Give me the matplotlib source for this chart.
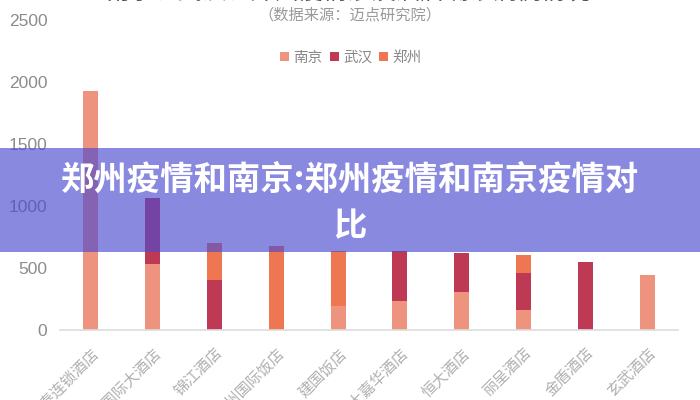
import matplotlib
matplotlib.use('Agg')
import matplotlib.pyplot as plt
import numpy as np

plt.rcParams['font.family'] = ['Noto Sans CJK SC', 'DejaVu Sans']

# 酒店名称
hotels = ['格林豪泰连锁酒店', '南京国际大酒店', '锦江酒店', '郑州国际饭店', '建国饭店',
          '武汉大嘉华酒店', '恒大酒店', '丽呈酒店', '金盾酒店', '玄武酒店']
# 各城市数据
nanjing = [1930, 535, 0, 0, 195, 235, 305, 160, 0, 440]
wuhan = [0, 530, 400, 0, 0, 405, 315, 300, 550, 0]
zhengzhou = [0, 0, 300, 680, 445, 0, 0, 145, 0, 0]
yticks = [0, 500, 1000, 1500, 2000, 2500]

colors = ['#EE937E', '#BE3A54', '#EE7752']

fig = plt.figure(figsize=(7, 4), dpi=100)
ax = fig.add_axes([60 / 700, 1 - 330 / 400, 618 / 700, 310 / 400])

x = np.arange(len(hotels))
w = 0.24
b1 = ax.bar(x, nanjing, w, color=colors[0], label='南京')
b2 = ax.bar(x, wuhan, w, bottom=nanjing, color=colors[1], label='武汉')
bottom2 = [a + b for a, b in zip(nanjing, wuhan)]
b3 = ax.bar(x, zhengzhou, w, bottom=bottom2, color=colors[2], label='郑州')

ax.set_xlim(-0.5, len(hotels) - 0.5)
ax.set_ylim(0, 2500)
ax.set_yticks(yticks)
ax.set_yticklabels([str(v) for v in yticks], fontfamily='Liberation Sans', fontsize=12.5, color='#8c8c8c')
ax.set_xticks(x)
ax.set_xticklabels(hotels, rotation=45, ha='right', rotation_mode='anchor',
                   fontsize=11, color='#b0b0b0', fontweight='light')
ax.tick_params(axis='both', length=0)
ax.tick_params(axis='y', pad=9)
ax.tick_params(axis='x', pad=11)
for s in ['top', 'right', 'left']:
    ax.spines[s].set_visible(False)
ax.spines['bottom'].set_color('#dddddd')
ax.spines['bottom'].set_linewidth(1.2)

# 图例
fig.legend(handles=[b1, b2, b3], loc='center', bbox_to_anchor=(351 / 700, 1 - 58 / 400),
           ncol=3, frameon=False, fontsize=10.5, handlelength=0.6, handleheight=0.6,
           handletextpad=0.3, columnspacing=0.5, labelcolor='#888888')

# 标题（被裁掉一部分）
fig.text(0.497, 1 - 5 / 400, '南京、武汉、郑州疫情涉及酒店确诊病例情况', ha='center', va='bottom',
         fontsize=17.5, color='#555555')
fig.text(0.5, 1 - 15 / 400, '（数据来源：迈点研究院）', ha='center', va='center',
         fontsize=11, color='#999999')

# 紫色横幅
band = plt.Rectangle((0, 1 - 252 / 400), 1, 104 / 400, transform=fig.transFigure,
                     facecolor='#4B4AD0', alpha=0.65, edgecolor='none', zorder=10)
fig.patches.append(band)
fig.text(0.5, 1 - 180 / 400, '郑州疫情和南京:郑州疫情和南京疫情对', ha='center', va='center',
         fontsize=24, color='white', fontweight='heavy', zorder=11)
fig.text(0.5, 1 - 227 / 400, '比', ha='center', va='center',
         fontsize=24, color='white', fontweight='heavy', zorder=11)

fig.savefig('out.png', dpi=100)
